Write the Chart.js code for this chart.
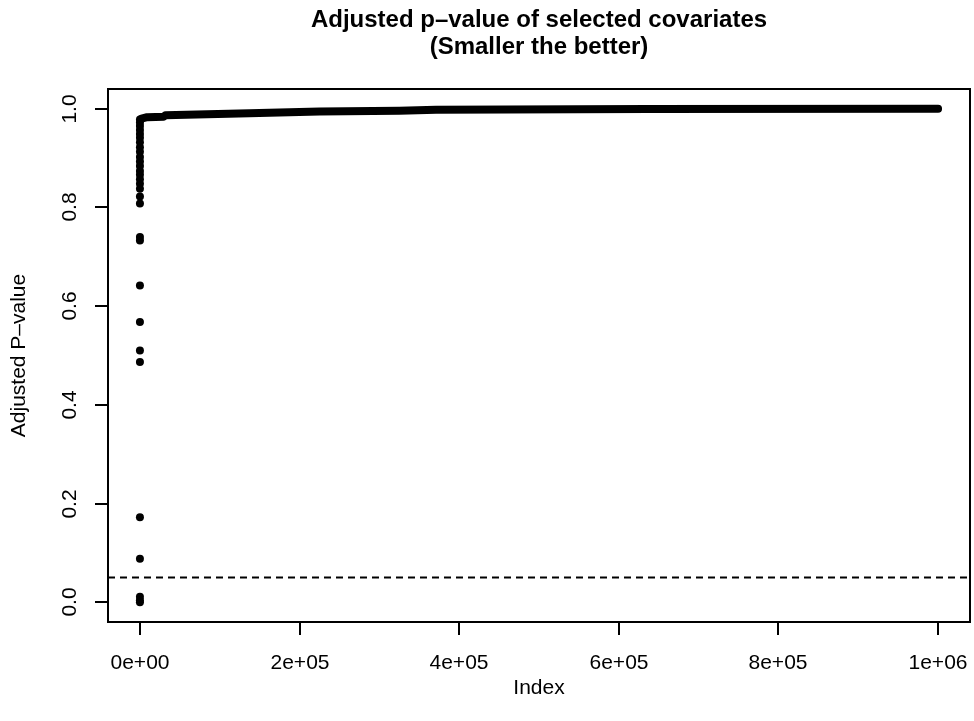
<!DOCTYPE html>
<html>
<head>
<meta charset="utf-8">
<script src="https://cdn.jsdelivr.net/npm/chart.js@4/dist/chart.umd.min.js"></script>
<style>
  html, body { margin: 0; background: #fff; }
  canvas { display: block; }
</style>
</head>
<body>
<canvas id="pvalChart" width="974" height="721"></canvas>
<script>
// axis ticks
const xTicks = [0, 200000, 400000, 600000, 800000, 1000000];
const xTickLabels = ['0e+00', '2e+05', '4e+05', '6e+05', '8e+05', '1e+06'];
const yTicks = [0, 0.2, 0.4, 0.6, 0.8, 1.0];
const yTickLabels = ['0.0', '0.2', '0.4', '0.6', '0.8', '1.0'];
const xLimits = [-40000, 1040000];
const yLimits = [-0.04, 1.04];

// the few smallest adjusted p-values (first indices)
const outlierIndex = [1, 2, 3, 4, 5, 6, 7, 8, 9, 10, 11, 12, 13, 14, 15,
  16, 17, 18, 19, 20, 21, 22, 23, 24, 25, 26, 27, 28, 29, 30];
const outlierPval = [0.0, 0.004, 0.011, 0.088, 0.172, 0.487, 0.510, 0.568, 0.642, 0.733,
  0.740, 0.808, 0.822, 0.838, 0.848, 0.857, 0.866, 0.874, 0.884, 0.893,
  0.902, 0.913, 0.922, 0.932, 0.941, 0.949, 0.957, 0.965, 0.972, 0.978];

// the dense band of the remaining covariates
const bandIndex = [2000, 9000, 30000, 32000, 137000, 225000, 325000, 371000, 637000, 1000000];
const bandPval = [0.980, 0.983, 0.984, 0.987, 0.991, 0.9945, 0.996, 0.998, 0.9995, 1.0];

const cutoff = 0.05;

const FONT = '"Liberation Sans", Arial, Helvetica, sans-serif';

// R-style box, ticks, labels and titles
const baseAxes = {
    id: 'baseAxes',
    afterDraw(chart) {
        const c = chart.ctx;
        const area = chart.chartArea;
        const xs = chart.scales.x;
        const ys = chart.scales.y;
        c.save();
        c.strokeStyle = '#000';
        c.fillStyle = '#000';
        c.lineWidth = 2;
        c.strokeRect(area.left, area.top, area.right - area.left, area.bottom - area.top);

        c.font = '21px ' + FONT;
        c.textAlign = 'center';
        c.textBaseline = 'middle';
        xTicks.forEach((v, i) => {
            const px = Math.round(xs.getPixelForValue(v));
            c.beginPath();
            c.moveTo(px, area.bottom);
            c.lineTo(px, area.bottom + 13);
            c.stroke();
            c.fillText(xTickLabels[i], px, 663);
        });
        yTicks.forEach((v, i) => {
            const py = Math.round(ys.getPixelForValue(v));
            c.beginPath();
            c.moveTo(area.left, py);
            c.lineTo(area.left - 13, py);
            c.stroke();
            c.save();
            c.translate(70, py);
            c.rotate(-Math.PI / 2);
            c.fillText(yTickLabels[i], 0, 0);
            c.restore();
        });

        c.fillText('Index', (area.left + area.right) / 2, 688);
        c.save();
        c.translate(19, (area.top + area.bottom) / 2);
        c.rotate(-Math.PI / 2);
        c.fillText('Adjusted P\u2013value', 0, 0);
        c.restore();

        c.font = 'bold 24px ' + FONT;
        const cx = (area.left + area.right) / 2;
        c.fillText('Adjusted p\u2013value of selected covariates', cx, 20);
        c.fillText('(Smaller the better)', cx, 47);
        c.restore();
    }
};

const chart = new Chart(document.getElementById('pvalChart').getContext('2d'), {
    type: 'scatter',
    data: {
        datasets: [
            {
                label: 'band',
                data: bandIndex.map((x, i) => ({ x: x, y: bandPval[i] })),
                showLine: true,
                borderColor: '#000',
                borderWidth: 8,
                borderCapStyle: 'round',
                borderJoinStyle: 'round',
                pointRadius: 0,
            },
            {
                label: 'outliers',
                data: outlierIndex.map((x, i) => ({ x: x, y: outlierPval[i] })),
                backgroundColor: '#000',
                borderWidth: 0,
                pointRadius: 4,
            },
            {
                label: 'cutoff',
                data: xLimits.map(x => ({ x: x, y: cutoff })),
                showLine: true,
                borderColor: '#000',
                borderWidth: 2,
                borderDash: [7, 5],
                pointRadius: 0,
            },
        ],
    },
    options: {
        responsive: false,
        animation: false,
        layout: { padding: { left: 108, top: 89, right: 1, bottom: 99 } },
        scales: {
            x: { type: 'linear', min: xLimits[0], max: xLimits[1], display: false },
            y: { type: 'linear', min: yLimits[0], max: yLimits[1], display: false },
        },
        plugins: {
            legend: { display: false },
            tooltip: { enabled: false },
        },
    },
    plugins: [baseAxes],
});
</script>
</body>
</html>
